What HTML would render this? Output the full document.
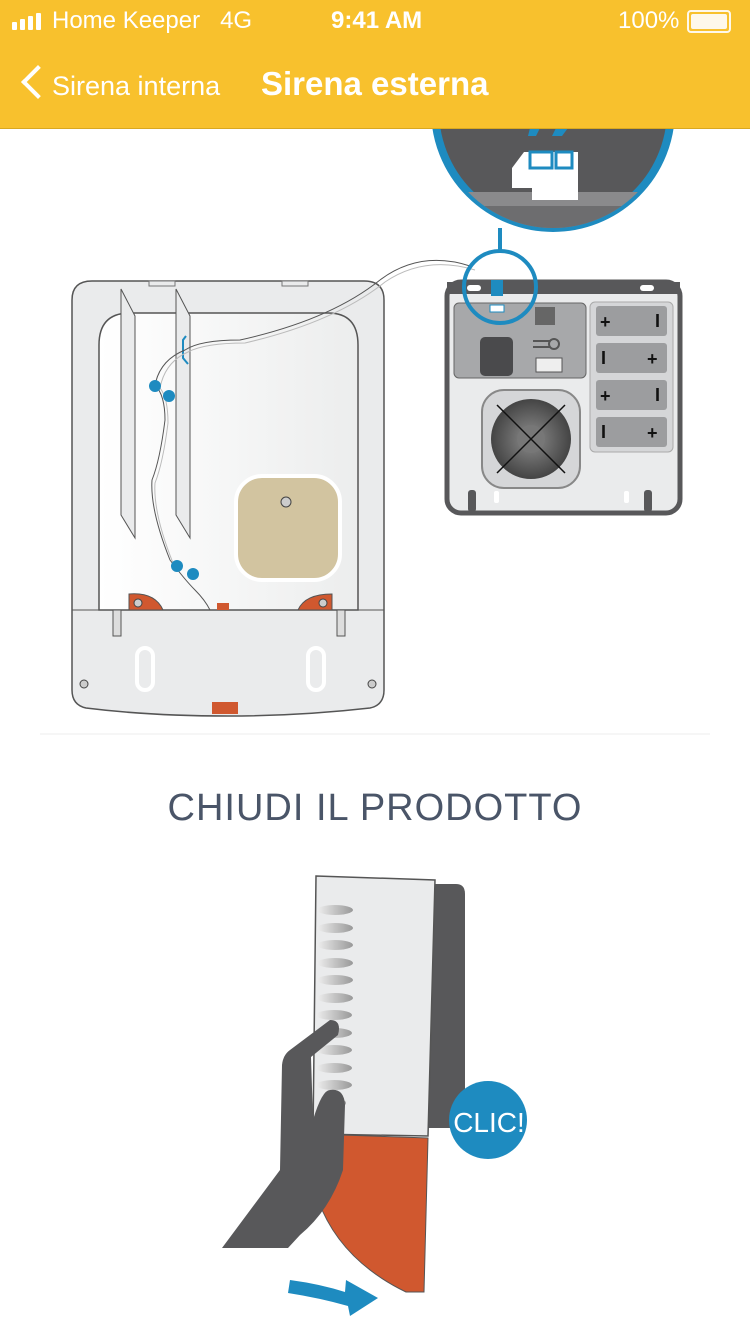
<!DOCTYPE html>
<html><head><meta charset="utf-8"><style>
body{margin:0;width:750px;height:1334px;background:#fff;overflow:hidden;font-family:"Liberation Sans",sans-serif;position:relative}
svg{position:absolute;left:0;top:0}
.hdr{position:absolute;left:0;top:0;width:750px;height:128px;background:#F8C12D;border-bottom:1px solid #d9a820;color:#fff}
</style></head><body>
<svg width="750" height="1334" viewBox="0 0 750 1334">
<defs>
<linearGradient id="wg" x1="0" x2="1"><stop offset="0" stop-color="#fff"/><stop offset="1" stop-color="#eceded"/></linearGradient>
<linearGradient id="rib" x1="0" x2="1"><stop offset="0" stop-color="#eee"/><stop offset="1" stop-color="#999"/></linearGradient>
<radialGradient id="spk"><stop offset="0.3" stop-color="#777"/><stop offset="1" stop-color="#444"/></radialGradient>
<clipPath id="cc"><circle cx="553" cy="110" r="118"/></clipPath>
</defs>
<circle cx="553" cy="110" r="118" fill="#58585a" stroke="#1e8bc0" stroke-width="8"/>
<g clip-path="url(#cc)">
<rect x="430" y="192" width="250" height="40" fill="#8a8a8c"/>
<rect x="440" y="206" width="230" height="30" fill="#6d6d6f"/>
<path d="M512 168 L524 152 L578 152 L578 200 L532 200 L532 188 L512 188Z" fill="#fff"/>
<rect x="530" y="152" width="22" height="16" fill="#fff" stroke="#1e8bc0" stroke-width="3"/>
<rect x="556" y="152" width="16" height="16" fill="#fff" stroke="#1e8bc0" stroke-width="3"/>
<path d="M530 128 L540 128 L536 136 L528 136Z M556 128 L568 128 L562 136 L552 136Z" fill="#1e8bc0"/>
</g>
<line x1="500" y1="228" x2="500" y2="252" stroke="#1e8bc0" stroke-width="4"/>
<path d="M72 300 Q72 281 92 281 L364 281 Q384 281 384 300 L384 690 Q384 705 370 708 Q300 716 228 716 Q150 716 86 708 Q72 705 72 690Z" fill="#eaebec" stroke="#555" stroke-width="1.5"/>
<rect x="149" y="281" width="26" height="5" fill="#eaebec" stroke="#777"/>
<rect x="282" y="281" width="26" height="5" fill="#eaebec" stroke="#777"/>
<path d="M99 610 L99 345 Q99 313 130 313 L328 313 Q358 313 358 345 L358 610Z" fill="url(#wg)" stroke="#555" stroke-width="1.5"/>
<line x1="72" y1="610" x2="384" y2="610" stroke="#555"/>
<polygon points="121,289 135,316 135,538 121,515" fill="#eaebec" stroke="#555"/>
<polygon points="176,289 190,316 190,538 176,515" fill="#eaebec" stroke="#555"/>
<path d="M186 336 L183 340 L183 358 L188 364" fill="none" stroke="#1e8bc0" stroke-width="2"/>
<path d="M470 266 Q420 250 380 280 Q330 320 240 340 Q200 340 185 350 Q160 360 155 385 Q165 395 165 420 Q160 460 152 480 Q150 510 170 560 Q185 580 195 590 Q205 600 210 610" fill="none" stroke="#555" stroke-width="1"/>
<path d="M475 270 Q425 255 385 282 Q335 322 245 343 Q205 343 188 352 Q165 362 160 388 Q168 398 168 423 Q163 463 155 483 Q153 513 173 563" fill="none" stroke="#bbb" stroke-width="1"/>
<rect x="236" y="476" width="104" height="104" rx="26" fill="#d2c4a0" stroke="#fff" stroke-width="4"/>
<circle cx="286" cy="502" r="5" fill="#ccc" stroke="#444"/>
<circle cx="155" cy="386" r="6" fill="#1e8bc0"/><circle cx="169" cy="396" r="6" fill="#1e8bc0"/>
<circle cx="177" cy="566" r="6" fill="#1e8bc0"/><circle cx="193" cy="574" r="6" fill="#1e8bc0"/>
<path d="M129 610 L129 594 Q155 592 163 610Z" fill="#d0582f" stroke="#555"/>
<path d="M332 610 L332 594 Q305 594 298 610Z" fill="#d0582f" stroke="#555"/>
<circle cx="138" cy="603" r="4" fill="#ccc" stroke="#444"/><circle cx="323" cy="603" r="4" fill="#ccc" stroke="#444"/>
<rect x="217" y="603" width="12" height="7" fill="#d0582f"/>
<rect x="113" y="610" width="8" height="26" fill="#ddd" stroke="#555"/><rect x="337" y="610" width="8" height="26" fill="#ddd" stroke="#555"/>
<rect x="137" y="648" width="16" height="42" rx="8" fill="none" stroke="#fff" stroke-width="4"/>
<rect x="308" y="648" width="16" height="42" rx="8" fill="none" stroke="#fff" stroke-width="4"/>
<circle cx="84" cy="684" r="4" fill="#ccc" stroke="#444"/><circle cx="372" cy="684" r="4" fill="#ccc" stroke="#444"/>
<rect x="212" y="702" width="26" height="12" fill="#d0582f"/>
<rect x="447" y="282" width="233" height="231" rx="14" fill="#eaebec" stroke="#58585a" stroke-width="5"/>
<rect x="447" y="282" width="233" height="12" fill="#58585a"/>
<rect x="467" y="285" width="14" height="6" rx="3" fill="#fff"/><rect x="640" y="285" width="14" height="6" rx="3" fill="#fff"/>
<rect x="454" y="303" width="132" height="75" rx="5" fill="#a7a8aa" stroke="#666"/>
<rect x="535" y="307" width="20" height="18" fill="#666"/>
<rect x="480" y="337" width="33" height="39" rx="5" fill="#4a4a4c"/>
<rect x="536" y="358" width="26" height="14" fill="#eee" stroke="#555"/>
<path d="M533 341 L550 341 M533 347 L550 347" stroke="#555" stroke-width="2"/>
<circle cx="554" cy="344" r="5" fill="none" stroke="#555" stroke-width="2"/>
<rect x="590" y="302" width="83" height="150" rx="5" fill="#d5d6d8" stroke="#aaa"/>
<rect x="596" y="306" width="71" height="30" rx="3" fill="#9c9d9f"/>
<rect x="596" y="343" width="71" height="30" rx="3" fill="#9c9d9f"/>
<rect x="596" y="380" width="71" height="30" rx="3" fill="#9c9d9f"/>
<rect x="596" y="417" width="71" height="30" rx="3" fill="#9c9d9f"/>
<g font-family="Liberation Sans" font-weight="bold" font-size="18" fill="#111">
<text x="600" y="328">+</text><text x="655" y="327">I</text>
<text x="601" y="364">I</text><text x="647" y="365">+</text>
<text x="600" y="402">+</text><text x="655" y="401">I</text>
<text x="601" y="438">I</text><text x="647" y="439">+</text></g>
<rect x="482" y="390" width="98" height="98" rx="22" fill="#d5d6d8" stroke="#888" stroke-width="2"/>
<circle cx="531" cy="439" r="40" fill="url(#spk)"/>
<circle cx="531" cy="439" r="14" fill="#777"/>
<path d="M497 405 L565 473 M565 405 L497 473" stroke="#111" stroke-width="1.5"/>
<rect x="468" y="490" width="8" height="22" rx="3" fill="#58585a"/><rect x="644" y="490" width="8" height="22" rx="3" fill="#58585a"/>
<rect x="494" y="491" width="5" height="12" rx="2" fill="#fff"/><rect x="624" y="491" width="5" height="12" rx="2" fill="#fff"/>
<rect x="491" y="280" width="12" height="16" fill="#1e8bc0"/>
<rect x="490" y="305" width="14" height="7" fill="#fff" stroke="#1e8bc0"/>
<ellipse cx="500" cy="287" rx="36" ry="36" fill="none" stroke="#1e8bc0" stroke-width="4"/>
<line x1="40" y1="734" x2="710" y2="734" stroke="#eee"/>
<text x="375" y="820" text-anchor="middle" font-family="Liberation Sans" font-size="38" letter-spacing="1" fill="#4a5568">CHIUDI IL PRODOTTO</text>
<path d="M430 884 L456 884 Q465 884 465 894 L465 1128 L428 1128Z" fill="#58585a"/>
<polygon points="316,876 435,880 428,1136 313,1134" fill="#eaebec" stroke="#555" stroke-width="1.5"/>
<g fill="url(#rib)">
<ellipse cx="335" cy="910" rx="18" ry="5"/><ellipse cx="335" cy="928" rx="18" ry="5"/><ellipse cx="335" cy="945" rx="18" ry="5"/><ellipse cx="335" cy="963" rx="18" ry="5"/><ellipse cx="335" cy="980" rx="18" ry="5"/><ellipse cx="335" cy="998" rx="18" ry="5"/><ellipse cx="334" cy="1015" rx="18" ry="5"/><ellipse cx="334" cy="1033" rx="18" ry="5"/><ellipse cx="334" cy="1050" rx="18" ry="5"/><ellipse cx="334" cy="1068" rx="18" ry="5"/><ellipse cx="334" cy="1085" rx="18" ry="5"/><ellipse cx="334" cy="1103" rx="12" ry="5"/></g>
<path d="M313 1134 L428 1138 L424 1292 L406 1292 Q340 1260 318 1200Z" fill="#d0582f" stroke="#555"/>
<path d="M222 1248 L280 1170 L282 1065 Q283 1055 290 1050 L330 1020 Q342 1020 338 1035 L311 1057 L313 1120 Q322 1090 330 1090 Q344 1088 345 1105 L343 1170 Q330 1210 300 1235 L288 1248Z" fill="#58585a"/>
<circle cx="488" cy="1120" r="39" fill="#1e8bc0"/>
<text x="489" y="1132" text-anchor="middle" font-family="Liberation Sans" font-size="28" fill="#fff">CLIC!</text>
<path d="M290 1280 Q320 1284 345 1292 L346 1280 L378 1298 L350 1316 L348 1306 Q320 1298 288 1293Z" fill="#1e8bc0"/>
</svg>
<div class="hdr">
<div style="position:absolute;left:12px;top:13px;display:flex;align-items:flex-end;gap:3px">
<div style="width:5px;height:8px;background:#fff;border-radius:1px"></div><div style="width:5px;height:11px;background:#fff;border-radius:1px"></div><div style="width:5px;height:14px;background:#fff;border-radius:1px"></div><div style="width:5px;height:17px;background:#fff;border-radius:1px"></div></div>
<div style="position:absolute;left:52px;top:7px;font-size:24px">Home Keeper&nbsp;&nbsp;&nbsp;4G</div>
<div style="position:absolute;left:331px;top:7px;font-size:24px;font-weight:bold">9:41 AM</div>
<div style="position:absolute;left:618px;top:7px;font-size:24px">100%</div>
<div style="position:absolute;left:687px;top:10px;width:40px;height:19px;border:2px solid #fff;border-radius:4px;opacity:.9"><div style="margin:2px;height:15px;background:#fff;border-radius:2px"></div></div>
<div style="position:absolute;left:20px;top:64px;width:20px;height:20px;border-left:4px solid #fff;border-bottom:4px solid #fff;transform:rotate(45deg);transform-origin:center;margin-left:6px;margin-top:6px"></div>
<div style="position:absolute;left:52px;top:71px;font-size:27px">Sirena interna</div>
<div style="position:absolute;left:261px;top:65px;font-size:33px;font-weight:bold">Sirena esterna</div>
</div>
</body></html>
